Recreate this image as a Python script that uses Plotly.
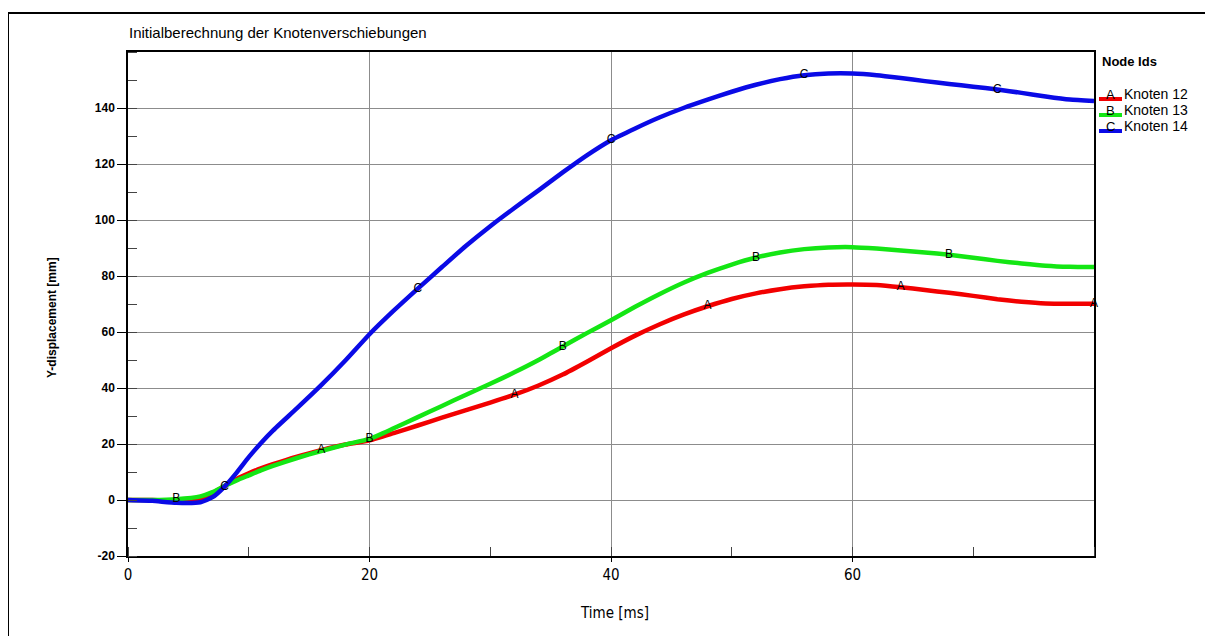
import numpy as np
import plotly.graph_objects as go

# ---------------- data ----------------
time_ms = [0, 2, 4, 6, 7, 8, 9, 10, 11, 12, 14, 16, 18, 20, 22, 24, 26, 28, 30, 32, 34, 36, 38, 40,
           42, 44, 46, 48, 50, 52, 54, 56, 58, 60, 62, 64, 66, 68, 70, 72, 74, 76, 78, 80]

knoten12 = [0, 0, -0.3, 0.5, 2.5, 5, 7.5, 9.5, 11.3, 12.8, 15.5, 17.8, 19.8, 21.3, 23.9, 26.6, 29.4,
            32.1, 34.8, 37.6, 40.9, 44.8, 49.4, 54.2, 58.7, 62.7, 66.2, 69.2, 71.8, 73.8, 75.3,
            76.3, 76.9, 77.0, 76.8, 76.0, 75.0, 74.0, 72.9, 71.7, 70.8, 70.2, 70.1, 70.1]

knoten13 = [0, 0, 0.3, 1.3, 2.8, 5, 7, 8.8, 10.6, 12.2, 15.0, 17.5, 19.8, 21.8, 25.6, 29.6, 33.6,
            37.6, 41.5, 45.6, 50.0, 54.8, 59.6, 64.2, 69.0, 73.5, 77.6, 81.1, 84.1, 86.6, 88.4,
            89.6, 90.2, 90.3, 89.8, 89.1, 88.4, 87.6, 86.5, 85.4, 84.5, 83.7, 83.3, 83.2]

knoten14 = [0, -0.3, -1.0, -0.8, 1.0, 4.8, 9.8, 15.3, 20.3, 24.8, 32.8, 41, 49.8, 59.2, 67.6, 75.5,
            83.2, 90.8, 97.8, 104.3, 110.6, 117.0, 123.1, 128.5, 132.7, 136.6, 140.0, 143.0,
            145.8, 148.3, 150.3, 151.7, 152.3, 152.3, 151.7, 150.7, 149.6, 148.6, 147.6, 146.6,
            145.4, 144.1, 143.0, 142.5]

series_names = ["Knoten 12", "Knoten 13", "Knoten 14"]
series_letters = ["A", "B", "C"]
series_values = [knoten12, knoten13, knoten14]
label_times = [[16, 32, 48, 64, 80], [4, 20, 36, 52, 68], [8, 24, 40, 56, 72]]

x_ticks = [0, 20, 40, 60]
x_tick_labels = ["0", "20", "40", "60"]
y_ticks = [-20, 0, 20, 40, 60, 80, 100, 120, 140]
y_tick_labels = ["-20", "0", "20", "40", "60", "80", "100", "120", "140"]

# ---------------- style ----------------
colors = ["#f20000", "#14e614", "#0a0ae6"]
FONT = "Liberation Sans, Arial, sans-serif"
NARROW = "Liberation Sans Narrow, Arial Narrow, DejaVu Sans Condensed, sans-serif"

OFF = 8  # page body margin
W, H = 1213 - OFF, 636 - OFF
ML, MR, MT, MB = 128 - OFF, 119, 52 - OFF, 80
PW, PH = W - ML - MR, H - MT - MB


def px(xp):  # page pixel -> paper x
    return (xp - OFF - ML) / PW


def py(yp):  # page pixel -> paper y
    return (H - MB - (yp - OFF)) / PH


fig = go.Figure()

for name, vals, col in zip(series_names, series_values, colors):
    fig.add_trace(go.Scatter(
        x=time_ms, y=vals, mode="lines", name=name,
        line=dict(color=col, width=4.5, shape="spline", smoothing=0.5),
        showlegend=False, hoverinfo="x+y+name"))

for letter, vals, lt in zip(series_letters, series_values, label_times):
    ly = np.interp(lt, time_ms, vals)
    fig.add_trace(go.Scatter(
        x=lt, y=ly, mode="text", text=[letter] * len(lt),
        textposition="middle center", cliponaxis=False,
        textfont=dict(family=FONT, size=12, color="black"),
        showlegend=False, hoverinfo="skip"))

axis_common = dict(showline=True, linecolor="black", linewidth=1.5, mirror=True,
                   showgrid=True, gridcolor="#8c8c8c", gridwidth=1, zeroline=False)

fig.update_xaxes(range=[0, 80], tickvals=x_ticks, ticktext=x_tick_labels,
                 ticks="outside", ticklen=4, tickcolor="black",
                 tickfont=dict(family=NARROW, size=15, color="black"),
                 minor=dict(dtick=10, tick0=0, ticks="inside", ticklen=9,
                            tickcolor="#444", showgrid=False),
                 **axis_common)
fig.update_yaxes(range=[-20, 160], tickvals=y_ticks, ticktext=y_tick_labels,
                 ticks="outside", ticklen=9, tickcolor="black",
                 tickfont=dict(family=FONT, size=12, color="black", weight="bold"),
                 minor=dict(dtick=10, tick0=0, ticks="inside", ticklen=9,
                            tickcolor="#444", showgrid=False),
                 **axis_common)

P = dict(xref="paper", yref="paper", showarrow=False)
annotations = [
    dict(text="Initialberechnung der Knotenverschiebungen", x=px(127), y=py(33),
         xanchor="left", yanchor="middle",
         font=dict(family=FONT, size=15, color="black"), **P),
    dict(text="<b>Y-displacement [mm]</b>", x=px(52), y=py(318), textangle=-90,
         xanchor="center", yanchor="middle",
         font=dict(family=FONT, size=12, color="black"), **P),
    dict(text="Time [ms]", x=px(614), y=py(613), xanchor="center", yanchor="middle",
         font=dict(family=NARROW, size=15, color="black"), **P),
    dict(text="<b>Node Ids</b>", x=px(1100), y=py(61), xanchor="left", yanchor="middle",
         font=dict(family=FONT, size=13, color="black"), **P),
]

shapes = [
    # outer frame (left and top edges visible)
    dict(type="line", xref="paper", yref="paper", x0=px(8), x1=px(8), y0=py(13), y1=py(700),
         line=dict(color="black", width=2)),
    dict(type="line", xref="paper", yref="paper", x0=px(8), x1=px(1300), y0=py(13), y1=py(13),
         line=dict(color="black", width=2)),
]

legend_line_y = [99, 115, 131]
legend_text_y = [94, 110, 126]
for name, letter, col, ly, ty in zip(series_names, series_letters, colors, legend_line_y, legend_text_y):
    shapes.append(dict(type="line", xref="paper", yref="paper", x0=px(1099), x1=px(1122),
                       y0=py(ly), y1=py(ly), line=dict(color=col, width=4)))
    annotations.append(dict(text=letter, x=px(1110.5), y=py(ty), xanchor="center", yanchor="middle",
                            font=dict(family=FONT, size=13, color="black"), **P))
    annotations.append(dict(text=name, x=px(1122), y=py(ty), xanchor="left", yanchor="middle",
                            font=dict(family=FONT, size=14, color="black"), **P))

fig.update_layout(
    width=W, height=H,
    margin=dict(l=ML, r=MR, t=MT, b=MB, pad=0),
    paper_bgcolor="white", plot_bgcolor="white",
    annotations=annotations, shapes=shapes,
    showlegend=False,
)

fig.write_html("out.html")
